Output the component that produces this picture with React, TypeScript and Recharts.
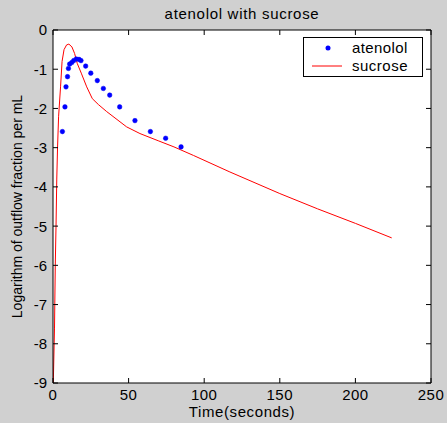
import { LineChart, Line, XAxis, YAxis } from 'recharts';

// time (s) and log outflow fraction
const atenololTime = [6.2, 7.9, 8.6, 9.6, 10.2, 11.0, 12.4, 13.7, 15.4, 17.2, 18.5, 21.6, 25.0, 29.3, 33.3, 37.5, 44.1, 54.2, 64.4, 74.5, 84.7];
const atenololLog = [-2.59, -1.96, -1.45, -1.19, -0.98, -0.87, -0.83, -0.78, -0.74, -0.75, -0.78, -0.92, -1.1, -1.29, -1.49, -1.66, -1.96, -2.31, -2.59, -2.76, -2.98];

const sucroseTime = [0.2, 1, 1.5, 2, 2.5, 3, 3.7, 5, 6, 7.3, 9, 10.5, 12.5, 14.3, 16, 18.7, 22.3, 26, 30, 35.5, 48.7, 57.5, 70, 80, 93, 117, 150, 175, 200, 224];
const sucroseLog = [-9, -7.6, -6, -5, -3.8, -3, -2.2, -1.45, -0.8, -0.5, -0.38, -0.36, -0.43, -0.6, -0.85, -1.1, -1.45, -1.75, -1.9, -2.08, -2.47, -2.64, -2.83, -2.98, -3.2, -3.62, -4.17, -4.56, -4.93, -5.3];

const xTicks = [0, 50, 100, 150, 200, 250];
const yTicks = [0, -1, -2, -3, -4, -5, -6, -7, -8, -9];

const atenolol = atenololTime.map((t, i) => ({ t, v: atenololLog[i] }));
const sucrose = sucroseTime.map((t, i) => ({ t, v: sucroseLog[i] }));

const FONT = '"Liberation Sans", Arial, sans-serif';
const TICK = 5;
const GAP = 6;

function BottomTick({ x, y, payload }: any) {
  const y0 = y - GAP;
  return (
    <g>
      <line x1={x} x2={x} y1={y0} y2={y0 - TICK} stroke="#000" />
      <text x={x} y={y} dy="0.75em" textAnchor="middle" fontSize={15} letterSpacing={0.5} fontFamily={FONT} fill="#000">{payload.value}</text>
    </g>
  );
}

function LeftTick({ x, y, payload }: any) {
  const x0 = x + GAP;
  return (
    <g>
      <line x1={x0} x2={x0 + TICK} y1={y} y2={y} stroke="#000" />
      <text x={x} y={y} dy="0.36em" textAnchor="end" fontSize={15} fontFamily={FONT} fill="#000">{payload.value}</text>
    </g>
  );
}

function TopTick({ x, y }: any) {
  return <line x1={x} x2={x} y1={y} y2={y + TICK} stroke="#000" />;
}

function RightTick({ x, y }: any) {
  return <line x1={x} x2={x - TICK} y1={y} y2={y} stroke="#000" />;
}

function YLabel(props: any) {
  const vb = props.viewBox || { x: 14, y: 30, width: 39, height: 353 };
  const cx = vb.x + 8;
  const cy = vb.y + vb.height / 2;
  return (
    <text x={cx} y={cy} transform={`rotate(-90 ${cx} ${cy})`} textAnchor="middle" fontSize={14} fontFamily={FONT} fill="#000">
      Logarithm of outflow fraction per mL
    </text>
  );
}

function LegendBox() {
  return (
    <div style={{ position: 'absolute', left: 303, top: 37, width: 118, height: 38, border: '1px solid #000', background: '#fff' }}>
      <svg width={118} height={38} style={{ position: 'absolute', left: 0, top: 0 }}>
        <circle cx={24} cy={10} r={2.5} fill="#0000ff" />
        <line x1={8} x2={38} y1={28} y2={28} stroke="#ff0000" />
        <text x={48} y={15} fontSize={15} letterSpacing={0.4} fontFamily={FONT} fill="#000">atenolol</text>
        <text x={48} y={33} fontSize={15} letterSpacing={0.5} fontFamily={FONT} fill="#000">sucrose</text>
      </svg>
    </div>
  );
}

export default function App() {
  return (
    <div style={{ width: 447, height: 423, background: '#d0d0d0', position: 'relative' }}>
      <style>{'body{margin:0}'}</style>
      <LineChart width={447} height={423} margin={{ top: 29, right: 15, bottom: 0, left: 14 }}>
        <rect x={53} y={30} width={378} height={353} fill="#fff" />
        <XAxis
          dataKey="t"
          type="number"
          domain={[0, 250]}
          ticks={xTicks}
          allowDataOverflow
          height={40}
          tickSize={0}
          tickMargin={GAP}
          tick={<BottomTick />}
          axisLine={{ stroke: '#000' }}
          tickLine={false}
          label={{ value: 'Time(seconds)', position: 'insideBottom', offset: 6, fontSize: 15, letterSpacing: 0.6, fontFamily: FONT, fill: '#000' }}
        />
        <XAxis
          xAxisId="top"
          dataKey="t"
          orientation="top"
          type="number"
          domain={[0, 250]}
          ticks={xTicks}
          allowDataOverflow
          height={1}
          tickSize={0}
          tickMargin={0}
          tick={<TopTick />}
          axisLine={{ stroke: '#000' }}
          tickLine={false}
          label={{ value: 'atenolol with sucrose', position: 'top', offset: 10, fontSize: 15, letterSpacing: 0.7, fontFamily: FONT, fill: '#000' }}
        />
        <YAxis
          type="number"
          domain={[-9, 0]}
          ticks={yTicks}
          allowDataOverflow
          width={39}
          tickSize={0}
          tickMargin={GAP}
          tick={<LeftTick />}
          axisLine={{ stroke: '#000' }}
          tickLine={false}
          label={<YLabel />}
        />
        <YAxis
          yAxisId="right"
          orientation="right"
          type="number"
          domain={[-9, 0]}
          ticks={yTicks}
          allowDataOverflow
          width={1}
          tickSize={0}
          tickMargin={0}
          tick={<RightTick />}
          axisLine={{ stroke: '#000' }}
          tickLine={false}
        />
        {/* invisible copy so the frame axes on top and right get a scale */}
        <Line
          data={sucrose}
          dataKey="v"
          xAxisId="top"
          yAxisId="right"
          stroke="none"
          dot={false}
          legendType="none"
          isAnimationActive={false}
        />
        <Line
          data={sucrose}
          dataKey="v"
          name="sucrose"
          type="linear"
          stroke="#ff0000"
          strokeWidth={1}
          dot={false}
          isAnimationActive={false}
        />
        <Line
          data={atenolol}
          dataKey="v"
          name="atenolol"
          stroke="none"
          dot={{ r: 2.3, fill: '#0000ff', stroke: '#0000ff', strokeWidth: 0.5 }}
          isAnimationActive={false}
        />
      </LineChart>
      <LegendBox />
    </div>
  );
}
